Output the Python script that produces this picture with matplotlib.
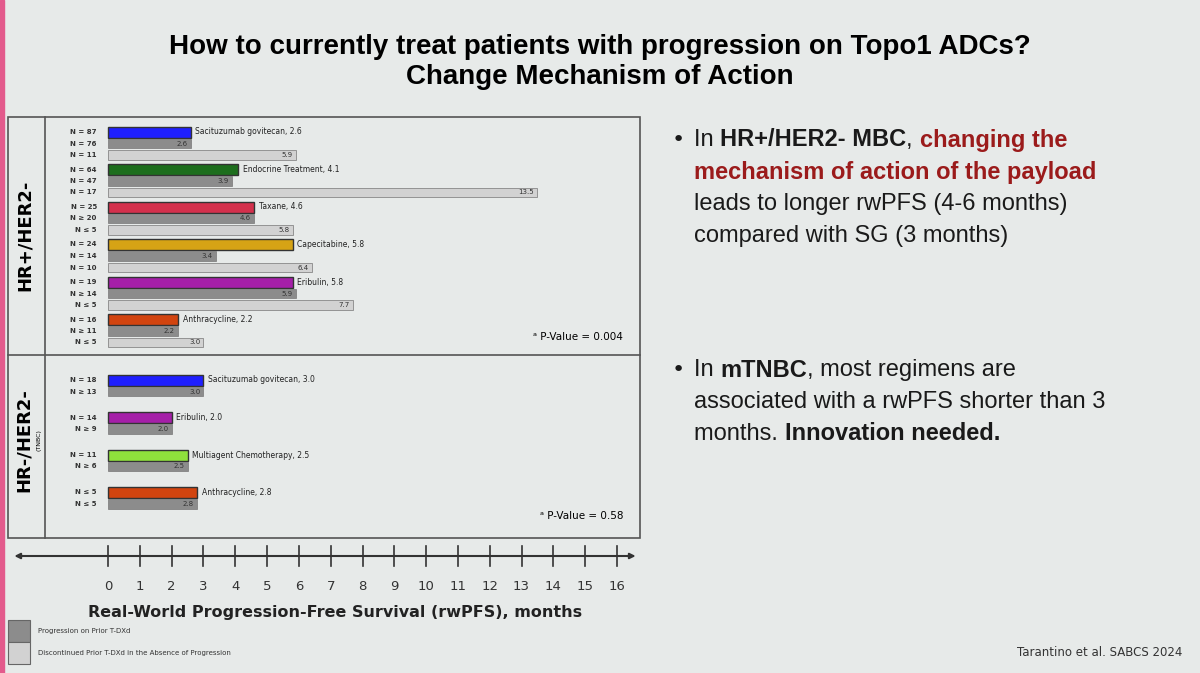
import matplotlib
matplotlib.use("Agg")
import matplotlib.pyplot as plt
from matplotlib.patches import Rectangle

# ---- data ----
hr_regimens = ["Sacituzumab govitecan", "Endocrine Treatment", "Taxane", "Capecitabine", "Eribulin", "Anthracycline"]
hr_overall = [2.6, 4.1, 4.6, 5.8, 5.8, 2.2]
hr_prog = [2.6, 3.9, 4.6, 3.4, 5.9, 2.2]
hr_disc = [5.9, 13.5, 5.8, 6.4, 7.7, 3.0]
hr_n = [["N = 87", "N = 76", "N = 11"], ["N = 64", "N = 47", "N = 17"], ["N = 25", "N ≥ 20", "N ≤ 5"],
        ["N = 24", "N = 14", "N = 10"], ["N = 19", "N ≥ 14", "N ≤ 5"], ["N = 16", "N ≥ 11", "N ≤ 5"]]
tn_regimens = ["Sacituzumab govitecan", "Eribulin", "Multiagent Chemotherapy", "Anthracycline"]
tn_overall = [3.0, 2.0, 2.5, 2.8]
tn_prog = [3.0, 2.0, 2.5, 2.8]
tn_n = [["N = 18", "N ≥ 13"], ["N = 14", "N ≥ 9"], ["N = 11", "N ≥ 6"], ["N ≤ 5", "N ≤ 5"]]
xticks = list(range(0, 17))

hr_colors = ["#1f1fff", "#1d6e1d", "#d4304c", "#d6a315", "#a51fa8", "#d2440f"]
tn_colors = ["#1f1fff", "#a51fa8", "#8fe03c", "#d2440f"]
PROG = "#8c8c8c"
DISC = "#d2d2d2"
BG = "#e7eae9"

W, H = 1200, 673
fig = plt.figure(figsize=(12, 6.73), dpi=100, facecolor=BG)

def fx(px): return px / W
def fy(py): return 1 - py / H

fig.patches.append(Rectangle((0, 0), fx(4), 1, transform=fig.transFigure, color="#e35a8c", zorder=0))

fig.text(0.5, fy(47), "How to currently treat patients with progression on Topo1 ADCs?",
         ha="center", va="center", fontsize=20, fontweight="bold", family="Liberation Sans")
fig.text(0.5, fy(77), "Change Mechanism of Action",
         ha="center", va="center", fontsize=20, fontweight="bold", family="Liberation Sans")

box = dict(transform=fig.transFigure, fill=False, lw=1.2, ec="#555555")
fig.patches.append(Rectangle((fx(8), fy(538)), fx(632), fy(117) - fy(538), **box))
fig.add_artist(plt.Line2D([fx(8), fx(640)], [fy(355), fy(355)], transform=fig.transFigure, color="#555555", lw=1.2))
fig.add_artist(plt.Line2D([fx(45), fx(45)], [fy(117), fy(538)], transform=fig.transFigure, color="#555555", lw=1.2))

fig.text(fx(25), fy(235), "HR+/HER2-", rotation=90, ha="center", va="center", fontsize=13, fontweight="bold")
fig.text(fx(24), fy(440), "HR-/HER2-", rotation=90, ha="center", va="center", fontsize=13, fontweight="bold")
fig.text(fx(39), fy(440), "(TNBC)", rotation=90, ha="center", va="center", fontsize=4.5)

x0px, ppu = 108, (617 - 108) / 16
ax = fig.add_axes([fx(45), fy(538), fx(640) - fx(45), fy(117) - fy(538)])
ax.set_xlim((45 - x0px) / ppu, (640 - x0px) / ppu)
ax.set_ylim(538, 117)
ax.axis("off")

def draw_group(y0, color, vals, name, ns, overall):
    ys = [y0 + i * 11.5 for i in range(len(vals))]
    cols = [color, PROG, DISC]
    for i, (y, v) in enumerate(zip(ys, vals)):
        ax.barh(y, v, height=11 if i == 0 else 9.5, left=0, color=cols[i],
                edgecolor="#333333" if i == 0 else "#777777", lw=1.0 if i == 0 else 0.5)
        ax.text(-0.35, y, ns[i], ha="right", va="center", fontsize=5, fontweight="bold", color="#333333")
        if i > 0:
            ax.text(v - 0.1, y, f"{v:.1f}", ha="right", va="center", fontsize=5, color="#333333")
    ax.text(vals[0] + 0.15, ys[0], f"{name}, {overall:.1f}", ha="left", va="center", fontsize=5.5, color="#222222")

for g in range(len(hr_regimens)):
    draw_group(132 + g * 37.5, hr_colors[g], [hr_overall[g], hr_prog[g], hr_disc[g]],
               hr_regimens[g], hr_n[g], hr_overall[g])
for g in range(len(tn_regimens)):
    draw_group(380 + g * 37.5, tn_colors[g], [tn_overall[g], tn_prog[g]],
               tn_regimens[g], tn_n[g], tn_overall[g])

ax.text(16.2, 337, "ᵃ P-Value = 0.004", ha="right", va="center", fontsize=7.5)
ax.text(16.2, 516, "ᵃ P-Value = 0.58", ha="right", va="center", fontsize=7.5)

ax2 = fig.add_axes([fx(10), fy(600), fx(630), fy(545) - fy(600)])
ax2.set_xlim((10 - x0px) / ppu, (640 - x0px) / ppu)
ax2.set_ylim(0, 1)
ax2.axis("off")
ax2.annotate("", xy=(ax2.get_xlim()[1] - 0.05, 0.8), xytext=(ax2.get_xlim()[0] + 0.05, 0.8),
             arrowprops=dict(arrowstyle="<|-|>", color="#333333", lw=1.5, mutation_scale=8))
for t in xticks:
    ax2.plot([t, t], [0.62, 0.98], color="#333333", lw=1.2)
    ax2.text(t, 0.25, str(t), ha="center", va="center", fontsize=9.5, color="#333333")
fig.text(fx(335), fy(612), "Real-World Progression-Free Survival (rwPFS), months",
         ha="center", va="center", fontsize=11.5, fontweight="bold", color="#222222")

fig.patches.append(Rectangle((fx(8), fy(642)), fx(22), fy(620) - fy(642), transform=fig.transFigure,
                             fc=PROG, ec="#666666", lw=0.8))
fig.patches.append(Rectangle((fx(8), fy(664)), fx(22), fy(642) - fy(664), transform=fig.transFigure,
                             fc=DISC, ec="#666666", lw=0.8))
fig.text(fx(38), fy(631), "Progression on Prior T-DXd", fontsize=5, va="center", color="#333333")
fig.text(fx(38), fy(653), "Discontinued Prior T-DXd in the Absence of Progression", fontsize=5, va="center", color="#333333")

renderer = fig.canvas.get_renderer()
def rich_line(x_px, y_px, parts, size=17):
    x = fx(x_px)
    for txt, bold, color in parts:
        t = fig.text(x, fy(y_px), txt, fontsize=size, fontweight="bold" if bold else "normal",
                     color=color, va="center", ha="left", family="Liberation Sans")
        bb = t.get_window_extent(renderer=renderer)
        x += bb.width / (W)
K, R = "#1a1a1a", "#9b1b1b"
fig.text(fx(672), fy(140), "•", fontsize=16, va="center", color=K)
rich_line(694, 140, [("In ", False, K), ("HR+/HER2- MBC", True, K), (", ", False, K), ("changing the", True, R)])
rich_line(694, 172, [("mechanism of action of the payload", True, R)])
rich_line(694, 204, [("leads to longer rwPFS (4-6 months)", False, K)])
rich_line(694, 236, [("compared with SG (3 months)", False, K)])
fig.text(fx(672), fy(370), "•", fontsize=16, va="center", color=K)
rich_line(694, 370, [("In ", False, K), ("mTNBC", True, K), (", most regimens are", False, K)])
rich_line(694, 402, [("associated with a rwPFS shorter than 3", False, K)])
rich_line(694, 434, [("months. ", False, K), ("Innovation needed.", True, K)])

fig.text(fx(1182), fy(652), "Tarantino et al. SABCS 2024", ha="right", va="center", fontsize=8.5, color="#333333")

fig.savefig("out.png", dpi=100, facecolor=BG)
